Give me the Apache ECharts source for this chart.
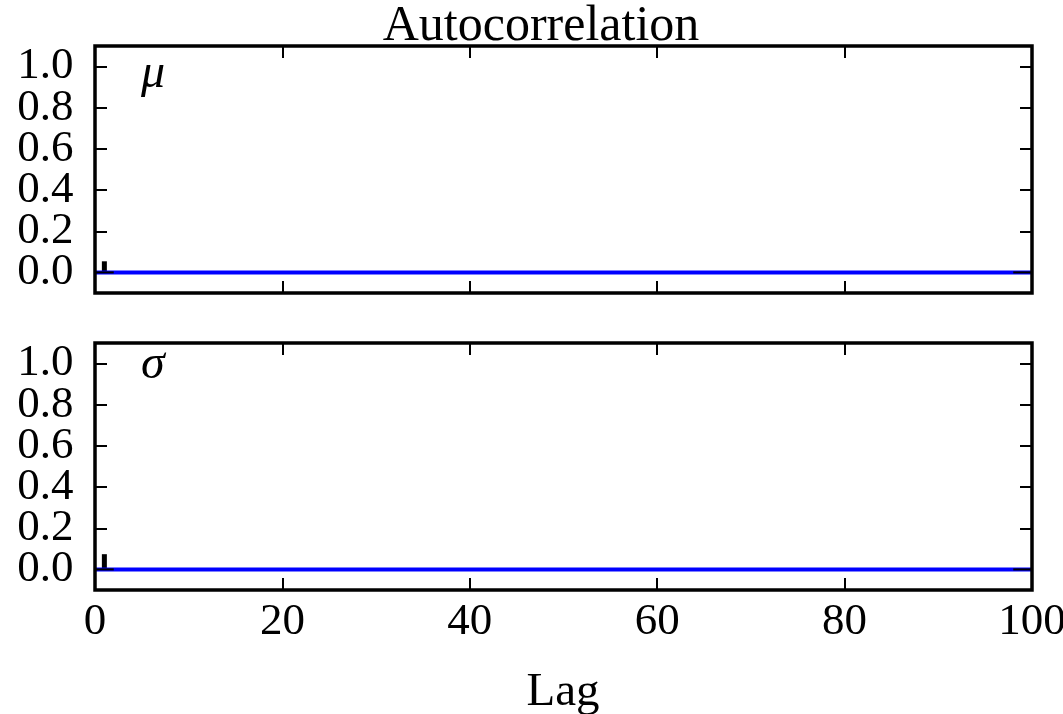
<!DOCTYPE html>
<html>
<head>
<meta charset="utf-8">
<script src="https://cdn.jsdelivr.net/npm/echarts@6/dist/echarts.min.js"></script>
<style>
html,body{margin:0;padding:0;background:#fff;}
#chart{width:1063px;height:714px;}
</style>
</head>
<body>
<div id="chart"></div>
<script>
// ---- data ----
const xTicks = [0, 20, 40, 60, 80, 100];
const yTicks = [0.0, 0.2, 0.4, 0.6, 0.8, 1.0];
const panelNames = ['\u03bc', '\u03c3'];
const spikeLags = [1];
const muAcf = [0.054];
const sigmaAcf = [0.074];
const zeroLine = [[0, 0], [100, 0]];
const edgeLeft = [[0, 0], [2, 0]];
const edgeRight = [[98, 0], [100, 0]];

const FONT = 'Liberation Serif';
const chart = echarts.init(document.getElementById('chart'), null, {renderer: 'canvas'});

const grids = [
  {left: 95, top: 46, width: 937, height: 247},
  {left: 95, top: 343, width: 937, height: 247}
];

const tickStyle = {show: true, inside: true, length: 12, interval: 0, lineStyle: {color: '#000', width: 2}};

function xAxes(gi, showLabels) {
  const base = {
    type: 'value', gridIndex: gi, min: 0, max: 100,
    axisLine: {show: false, onZero: false},
    splitLine: {show: false},
    axisTick: Object.assign({customValues: xTicks}, tickStyle),
  };
  return [
    Object.assign({}, base, {position: 'bottom',
      axisLabel: {show: showLabels, customValues: xTicks, interval: 0, showMinLabel: true, showMaxLabel: true, hideOverlap: false,
        color: '#000', fontFamily: FONT, fontSize: 45, lineHeight: 34, margin: 15, formatter: v => String(v)}}),
    Object.assign({}, base, {position: 'top', axisLabel: {show: false}})
  ];
}
function yAxes(gi) {
  const base = {
    type: 'value', gridIndex: gi, min: -0.1, max: 1.1,
    axisLine: {show: false, onZero: false},
    splitLine: {show: false},
    axisTick: Object.assign({customValues: yTicks}, tickStyle),
    axisLabel: {show: false}
  };
  return [
    Object.assign({}, base, {position: 'left'}),
    Object.assign({}, base, {position: 'right'})
  ];
}

const xAxis = [...xAxes(0, false), ...xAxes(1, true)];
const yAxis = [...yAxes(0), ...yAxes(1)];

function panelSeries(gi, acf) {
  const xi = gi * 2, yi = gi * 2;
  return [
    {type: 'bar', xAxisIndex: xi, yAxisIndex: yi, barWidth: 5, silent: true,
     itemStyle: {color: '#000'}, data: spikeLags.map((l, i) => [l, acf[i]])},
    {type: 'line', xAxisIndex: xi, yAxisIndex: yi, symbol: 'none', silent: true,
     lineStyle: {color: '#0000ff', width: 4}, data: zeroLine, z: 3},
    {type: 'line', xAxisIndex: xi, yAxisIndex: yi, symbol: 'none', silent: true,
     lineStyle: {color: '#000', width: 2}, data: edgeLeft, z: 4},
    {type: 'line', xAxisIndex: xi, yAxisIndex: yi, symbol: 'none', silent: true,
     lineStyle: {color: '#000', width: 2}, data: edgeRight, z: 4},
    // y tick labels, placed through the y scale at x = 0
    {type: 'scatter', xAxisIndex: xi, yAxisIndex: yi, symbol: 'circle', symbolSize: 1, silent: true, clip: false,
     itemStyle: {color: 'rgba(255,255,255,0)', opacity: 1},
     emphasis: {disabled: true},
     label: {show: true, position: 'left', distance: 21, offset: [0, -2], color: '#000', opacity: 1,
       textBorderWidth: 0, textShadowBlur: 0,
       fontFamily: FONT, fontSize: 45, formatter: p => p.value[1].toFixed(1)},
     labelLayout: {hideOverlap: false},
     data: yTicks.map(v => [0, v])}
  ];
}

const option = {
  animation: false,
  backgroundColor: '#fff',
  grid: grids.map(g => Object.assign({show: true, outerBoundsMode: 'none', containLabel: false,
    borderColor: '#000', borderWidth: 3.5, backgroundColor: 'transparent', z: 10}, g)),
  xAxis, yAxis,
  series: [...panelSeries(0, muAcf), ...panelSeries(1, sigmaAcf)],
  graphic: [
    {type: 'text', x: 541, y: 2, z: 100, style: {text: 'Autocorrelation', fill: '#000', align: 'center', verticalAlign: 'top', font: '50px "' + FONT + '"'}},
    {type: 'text', x: 563, y: 669, style: {text: 'Lag', fill: '#000', align: 'center', verticalAlign: 'top', font: '47px "' + FONT + '"'}},
    {type: 'text', x: 141, y: 50, style: {text: panelNames[0], fill: '#000', verticalAlign: 'top', font: 'italic 48px "' + FONT + '"'}},
    {type: 'text', x: 141, y: 341, style: {text: panelNames[1], fill: '#000', verticalAlign: 'top', font: 'italic 48px "' + FONT + '"'}}
  ]
};
chart.setOption(option);
</script>
</body>
</html>
